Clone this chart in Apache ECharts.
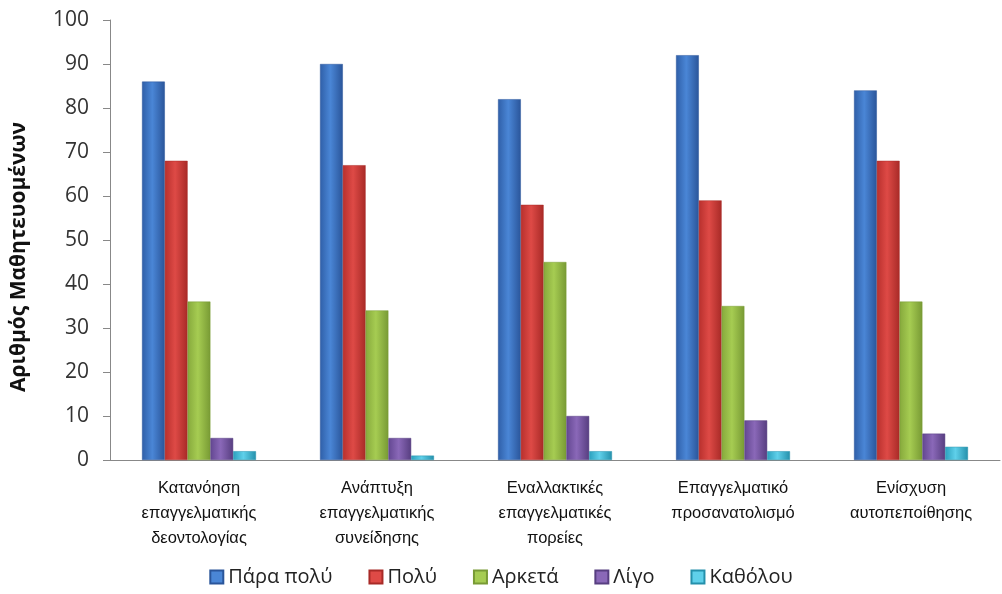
<!DOCTYPE html>
<html><head><meta charset="utf-8">
<script src="https://cdn.jsdelivr.net/npm/echarts@6/dist/echarts.min.js"></script>
<style>html,body{margin:0;padding:0;background:#fff}#c{width:1002px;height:594px}</style>
</head><body><div id="c"></div>
<script>
const categories = ['Κατανόηση\nεπαγγελματικής\nδεοντολογίας','Ανάπτυξη\nεπαγγελματικής\nσυνείδησης','Εναλλακτικές\nεπαγγελματικές\nπορείες','Επαγγελματικό\nπροσανατολισμό','Ενίσχυση\nαυτοπεποίθησης'];
const seriesNames = ['Πάρα πολύ','Πολύ','Αρκετά','Λίγο','Καθόλου'];
const paraPoly = [86, 90, 82, 92, 84];
const poly = [68, 67, 58, 59, 68];
const arketa = [36, 34, 45, 35, 36];
const ligo = [5, 5, 10, 9, 6];
const katholou = [2, 1, 2, 2, 3];
const yTicks = [0,10,20,30,40,50,60,70,80,90,100];
const yTitle = 'Αριθμός Μαθητευομένων';

const baseColors = [['#2f5fa8','#4a86d6','#2a559a'],['#b8302d','#de4a46','#a82a27'],['#86a93c','#a6cc52','#789a34'],['#634791','#8a68b8','#573e80'],['#2ba0bd','#5fd0ea','#2490ab']];
function grad(c){return new echarts.graphic.LinearGradient(0,0,1,0,[{offset:0,color:c[0]},{offset:0.45,color:c[1]},{offset:1,color:c[2]}]);}
const allData = [paraPoly, poly, arketa, ligo, katholou];
const chart = echarts.init(document.getElementById('c'));
chart.setOption({
  animation:false,
  grid:{left:110,right:2,top:20,bottom:134,containLabel:false},
  graphic:[{type:'text',rotation:Math.PI/2,x:19,y:257,
    style:{text:yTitle,font:'bold 21px "Open Sans"',fill:'#111',align:'center',verticalAlign:'middle'}}],
  legend:{bottom:2,left:'center',itemWidth:13,itemHeight:13,itemGap:36,icon:'rect',
    textStyle:{fontFamily:'Open Sans',fontSize:20,color:'#222'},data:seriesNames.map((n,i)=>({name:n,itemStyle:{color:baseColors[i][1]}}))},
  xAxis:{type:'category',data:categories,
    axisLine:{lineStyle:{color:'#888',width:1}},axisTick:{show:false},
    axisLabel:{fontFamily:'Liberation Sans',fontSize:16.5,color:'#111',lineHeight:25,margin:16,interval:0}},
  yAxis:{type:'value',min:0,max:100,interval:10,
    axisLine:{show:true,lineStyle:{color:'#888'}},axisTick:{show:true,length:7,lineStyle:{color:'#888'}},
    splitLine:{show:false},
    axisLabel:{fontFamily:'Open Sans',fontSize:21,color:'#333',margin:21,
      formatter:v=>yTicks.includes(v)?String(v):''}},
  series: seriesNames.map((n,i)=>({name:n,type:'bar',data:allData[i],barGap:'0%',barCategoryGap:'36%',
    itemStyle:{color:grad(baseColors[i]),borderColor:baseColors[i][2],borderWidth:0.5}}))
});
</script></body></html>
